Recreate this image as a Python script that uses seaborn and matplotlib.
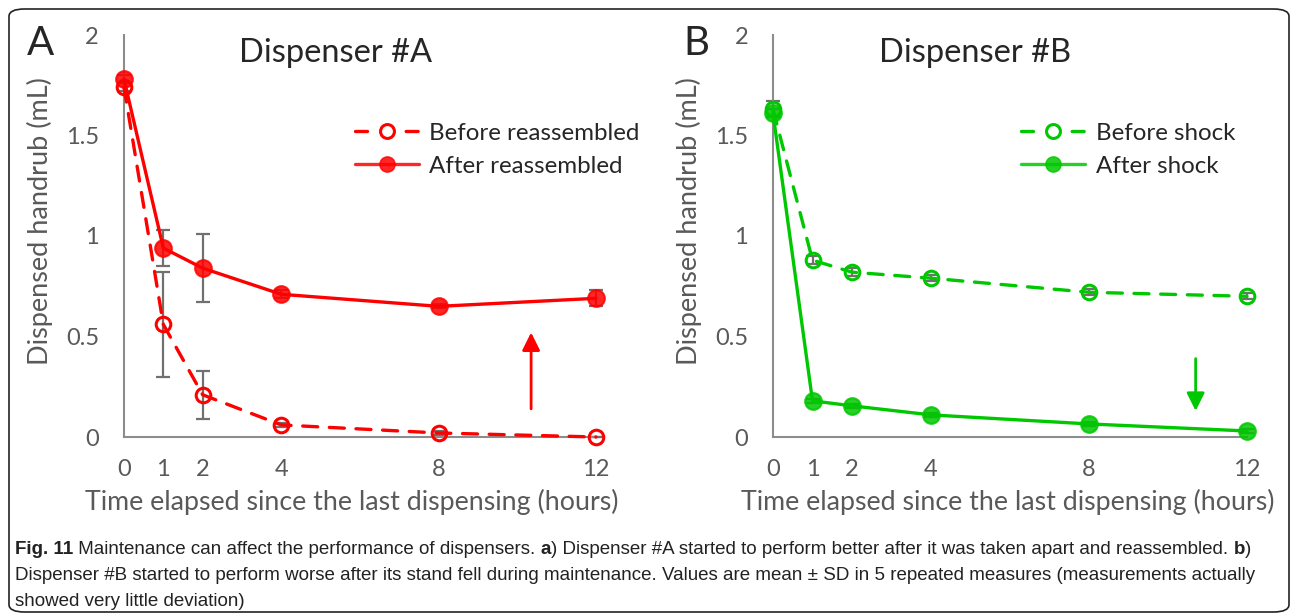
#! /usr/bin/env python3
'''
Dispenser maintenance figure (panels A and B)
'''

import matplotlib
matplotlib.use('Agg')
import matplotlib.pyplot as plt
from matplotlib.lines import Line2D
from matplotlib.patches import FancyBboxPatch
import pandas as pd
import seaborn as sns

# data: mean and SD
hours = [0, 1, 2, 4, 8, 12]
a_before = [1.74, 0.56, 0.21, 0.06, 0.02, 0.00]
a_before_sd = [0.02, 0.26, 0.12, 0.01, 0.01, 0.00]
a_after = [1.78, 0.94, 0.84, 0.71, 0.65, 0.69]
a_after_sd = [0.02, 0.09, 0.17, 0.02, 0.01, 0.04]
b_before = [1.63, 0.88, 0.82, 0.79, 0.72, 0.70]
b_before_sd = [0.04, 0.02, 0.02, 0.015, 0.015, 0.015]
b_after = [1.61, 0.18, 0.155, 0.11, 0.065, 0.03]
b_after_sd = [0.02, 0.01, 0.01, 0.01, 0.01, 0.01]

xtick_labels = ['0', '1', '2', '4', '8', '12']
ytick_vals = [0, 0.5, 1, 1.5, 2]
ytick_labels = ['0', '0.5', '1', '1.5', '2']

RED = '#FF0000'
GREEN = '#00C800'
GRAY = '#595959'
ERR = '#707070'
FONT = 'Lato'

sns.set_style('white')
plt.rcParams['font.family'] = [FONT, 'DejaVu Sans']

fig = plt.figure(figsize=(12.93, 6.16), dpi=100)
W, H = 1293, 616


def px_axes(l, t, r, b):
    return fig.add_axes([l / W, 1 - b / H, (r - l) / W, (b - t) / H])


def draw_panel(ax, color, before, before_sd, after, after_sd, letter, title, labels, lay):
    df = pd.DataFrame({'x': hours * 2, 'y': before + after,
                       'series': [labels[0]] * 6 + [labels[1]] * 6})
    # error bars first, behind the markers
    for ys, sd in [(before, before_sd), (after, after_sd)]:
        ax.errorbar(hours, ys, yerr=sd, fmt='none', ecolor=ERR, elinewidth=1.6,
                    capsize=5, capthick=1.6, zorder=2, clip_on=False)
    sns.lineplot(data=df, x='x', y='y', style='series', ax=ax, color=color,
                 dashes={labels[0]: (4.5, 3.5), labels[1]: ''},
                 linewidth=2.4, legend=False, zorder=3)
    for line in ax.get_lines():
        line.set_dash_capstyle('round')
        line.set_clip_on(False)
    ax.plot(hours, before, ls='none', marker='o', ms=10.5, mfc='none', mec=color,
            mew=2.2, zorder=4, clip_on=False)
    ax.plot(hours, after, ls='none', marker='o', ms=12, mfc=color, mec=color,
            mew=1.5, alpha=0.85, zorder=4, clip_on=False)

    ax.set_xlim(0, 12)
    ax.set_ylim(0, 2)
    ax.set_xticks(range(13))
    ax.set_xticklabels([str(i) if str(i) in xtick_labels else '' for i in range(13)])
    ax.set_yticks(ytick_vals)
    ax.set_yticklabels(ytick_labels)
    for s in ['top', 'right']:
        ax.spines[s].set_visible(False)
    for s in ['left', 'bottom']:
        ax.spines[s].set_color('#8C8C8C')
        ax.spines[s].set_linewidth(1.5)
    ax.tick_params(axis='both', direction='out', length=6, width=1.5,
                   color='#8C8C8C', labelcolor=GRAY, labelsize=17)
    ax.tick_params(axis='x', pad=10)
    ax.tick_params(axis='y', pad=12)
    ax.set_xlabel('Time elapsed since the last dispensing (hours)', fontsize=19.3,
                  color=GRAY)
    ax.xaxis.set_label_coords(lay['xl'], -0.128)
    ax.set_ylabel('Dispensed handrub (mL)', fontsize=19.5, color=GRAY)
    ax.yaxis.set_label_coords(-0.150, 0.537)
    ax.set_facecolor('none')

    ax.text(lay['title'], 0.933, title, transform=ax.transAxes, ha='center',
            va='baseline', fontsize=23.5)
    ax.text(lay['letter'], 0.950, letter, transform=ax.transAxes, ha='left',
            va='baseline', fontsize=29)

    handles = [Line2D([0], [0], color=color, lw=2.4, ls=(0, (3.6, 11.6)), marker='o',
                      ms=10, mfc='none', mec=color, mew=2.2, dash_capstyle='round'),
               Line2D([0], [0], color=color, lw=2.4, marker='o', ms=11, mfc=color,
                      mec=color, alpha=0.85)]
    ax.legend(handles, labels, loc='upper left', bbox_to_anchor=lay['leg'],
              frameon=False, fontsize=17.4, handlelength=2.65, handletextpad=0.45,
              labelspacing=0.5, borderaxespad=0)

    ax.annotate('', xy=(lay['ax'], lay['ay1']), xytext=(lay['ax'], lay['ay0']),
                arrowprops=dict(arrowstyle='-|>', color=color, lw=2,
                                mutation_scale=27, shrinkA=0, shrinkB=0))


ax_a = px_axes(124, 35, 596, 437)
draw_panel(ax_a, RED, a_before, a_before_sd, a_after, a_after_sd, 'A', 'Dispenser #A',
           ['Before reassembled', 'After reassembled'],
           {'ax': 10.35, 'ay0': 0.14, 'ay1': 0.52, 'leg': (0.468, 0.806),
            'title': 0.449, 'letter': -0.205, 'xl': 0.483})

ax_b = px_axes(773, 35, 1247, 437)
draw_panel(ax_b, GREEN, b_before, b_before_sd, b_after, b_after_sd, 'B', 'Dispenser #B',
           ['Before shock', 'After shock'],
           {'ax': 10.7, 'ay0': 0.39, 'ay1': 0.13, 'leg': (0.502, 0.806),
            'title': 0.426, 'letter': -0.19, 'xl': 0.496})

# rounded frame around whole figure
fig.patches.append(FancyBboxPatch((9 / W, 4 / H), 1280 / W, 603 / H,
                                  boxstyle='round,pad=0,rounding_size=0.012',
                                  transform=fig.transFigure, fill=False,
                                  ec='#222222', lw=1.2))

# caption with bold runs
CAP_FONT = ['Liberation Sans', 'DejaVu Sans']
cap_lines = [
    [('Fig. 11', 'bold'), (' Maintenance can affect the performance of dispensers. ', 'normal'),
     ('a', 'bold'), (') Dispenser #A started to perform better after it was taken apart and reassembled. ', 'normal'),
     ('b', 'bold'), (')', 'normal')],
    [('Dispenser #B started to perform worse after its stand fell during maintenance. '
      'Values are mean \u00b1 SD in 5 repeated measures (measurements actually', 'normal')],
    [('showed very little deviation)', 'normal')],
]
renderer = fig.canvas.get_renderer()
for i, runs in enumerate(cap_lines):
    x = 15
    y = 549 + i * 26
    for s, w in runs:
        t = fig.text(x / W, 1 - y / H, s, fontsize=13.5, fontweight=w, family=CAP_FONT,
                     color='#222222', ha='left', va='center')
        x += t.get_window_extent(renderer).width

fig.savefig('out.png', dpi=100)
